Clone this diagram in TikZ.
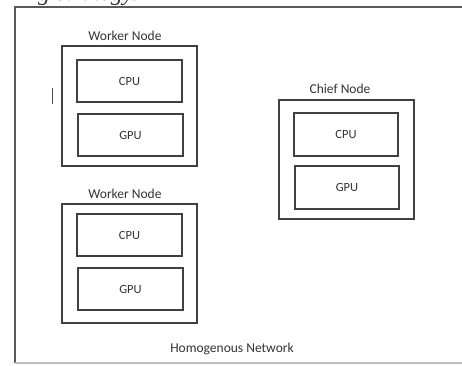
\documentclass[tikz,border=0pt]{standalone}
\usepackage{fontspec}
\setmainfont{Carlito}
\newfontfamily\serifit{Liberation Serif}
\begin{document}
\begin{tikzpicture}[x=1pt,y=-1pt,
  frame/.style={draw=black!65,line width=1.6pt},
  nodebox/.style={draw=black!75,line width=1.3pt},
  unitbox/.style={draw=black!75,line width=1.1pt,font=\fontsize{12.5}{14}\selectfont,text=black!80},
  lbl/.style={font=\fontsize{13.5}{15}\selectfont,text=black!80}]
\useasboundingbox (0,0) rectangle (462,365);
\clip (0,0) rectangle (462,365);
\fill[white] (0,0) rectangle (462,365);
% cut-off text at top (cut off in the reference as well)
\node[anchor=base west,inner sep=0pt,font=\serifit\itshape\fontsize{24}{28}\selectfont,text=black!80] (top) at (38,0) {g strategy.};
% outer frame
\draw[frame] (470,7) -- (15,7) -- (15,363);
\draw[draw=black!25,line width=1.2pt] (15,363) -- (470,363);
% stray mark
\coordinate (m1) at (52,88);
\coordinate (m2) at (52,104);
\draw[black!70,line width=0.9pt] (m1) -- (m2);
% worker node 1
\node[lbl] (w1l) at (125,36) {Worker Node};
\draw[nodebox] (62,46) rectangle (197,166);
\node[unitbox,minimum width=105pt,minimum height=42pt] (w1c) at (129.5,81) {CPU};
\node[unitbox,minimum width=105pt,minimum height=42pt] (w1g) at (130.5,135) {GPU};
% chief node
\node[lbl] (cl) at (340,89) {Chief Node};
\draw[nodebox] (279,100) rectangle (414,219);
\node[unitbox,minimum width=104pt,minimum height=43pt] (cc) at (346,134.5) {CPU};
\node[unitbox,minimum width=104pt,minimum height=43pt] (cg) at (347,187.5) {GPU};
% worker node 2
\node[lbl] (w2l) at (125,194) {Worker Node};
\draw[nodebox] (62,204) rectangle (197,323);
\node[unitbox,minimum width=105pt,minimum height=42pt] (w2c) at (129.5,235) {CPU};
\node[unitbox,minimum width=105pt,minimum height=42pt] (w2g) at (130.5,289) {GPU};
% network label
\node[lbl] (net) at (232,349) {Homogenous Network};
\end{tikzpicture}
\end{document}
